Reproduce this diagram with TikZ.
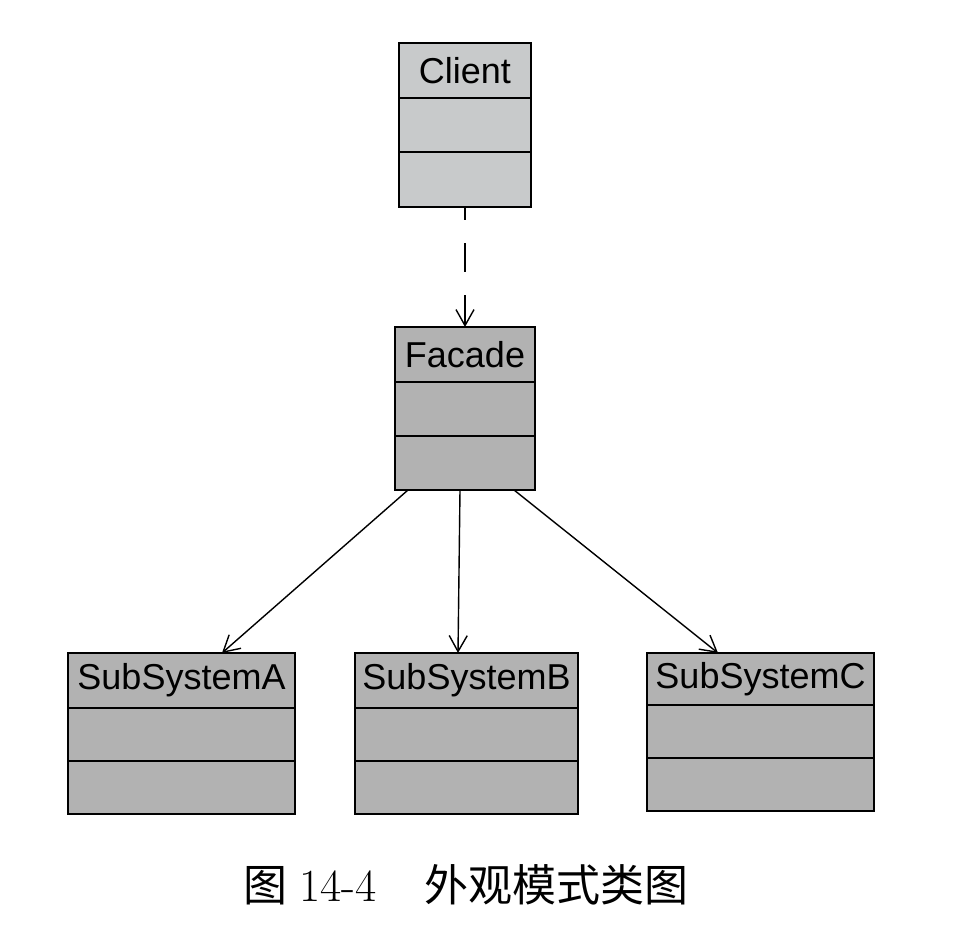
\documentclass[tikz,border=0pt]{standalone}
\usepackage{fontspec}
\newfontfamily\classfont{Liberation Sans}
\newfontfamily\cjk{Noto Sans CJK SC}
\usetikzlibrary{positioning,arrows.meta}
\definecolor{classfill}{RGB}{178,178,178}
\definecolor{clientfill}{RGB}{200,202,203}
\begin{document}
\begin{tikzpicture}[
    x=1pt, y=-1pt,
    font=\classfont\fontsize{36}{40}\selectfont,
    compart/.style={draw, line width=1.8pt, fill=classfill, inner sep=0pt, outer sep=0pt, minimum height=54pt},
    client/.style={compart, fill=clientfill, minimum width=132pt},
    facade/.style={compart, minimum width=140pt},
    subsys/.style={compart, minimum width=225pt, minimum height=53pt},
    conn/.style={line width=1.4pt, -{Straight Barb[length=16pt, width=18pt, line width=1.4pt]}}
]
\useasboundingbox (0,0) rectangle (960,936);

% Client
\node[client, minimum height=55pt] (client) at (465,70.5) {Client};
\node[client, below=0pt of client] (client-attr) {};
\node[client, minimum height=55pt, below=0pt of client-attr] (client-ops) {};

% Facade
\node[facade, minimum height=55pt] (facade) at (465,354.5) {Facade};
\node[facade, below=0pt of facade] (facade-attr) {};
\node[facade, below=0pt of facade-attr] (facade-ops) {};

% subsystems
\node[subsys, minimum width=227pt, minimum height=55pt] (suba) at (181.5,680.5) {SubSystemA};
\node[subsys, minimum width=227pt, below=0pt of suba] (suba-attr) {};
\node[subsys, minimum width=227pt, below=0pt of suba-attr] (suba-ops) {};

\node[subsys, minimum width=223pt, minimum height=55pt] (subb) at (466.5,680.5) {SubSystemB};
\node[subsys, minimum width=223pt, below=0pt of subb] (subb-attr) {};
\node[subsys, minimum width=223pt, below=0pt of subb-attr] (subb-ops) {};

\node[subsys, minimum width=227pt, minimum height=52pt] (subc) at (760.5,679) {SubSystemC};
\node[subsys, minimum width=227pt, below=0pt of subc] (subc-attr) {};
\node[subsys, minimum width=227pt, below=0pt of subc-attr] (subc-ops) {};

% dependencies
\draw[conn, dash pattern=on 29pt off 23pt, dash phase=16pt] (client-ops.south) -- (facade.north);
\draw[conn] ([xshift=-57pt]facade-ops.south) -- ([xshift=40.5pt]suba.north);
\draw[conn] ([xshift=-5pt]facade-ops.south) -- ([xshift=-8.5pt]subb.north);
\draw[conn] ([xshift=49pt]facade-ops.south) -- ([xshift=-42.5pt]subc.north);

% caption
\node[font=\rmfamily\fontsize{46}{50}\selectfont, inner sep=0pt, anchor=west] (caption) at (243,885)
    {{\cjk\fontsize{44}{48}\selectfont 图}\hspace{12pt}14-4\hspace{48pt}{\cjk\fontsize{44}{48}\selectfont 外观模式类图}};
\end{tikzpicture}
\end{document}
